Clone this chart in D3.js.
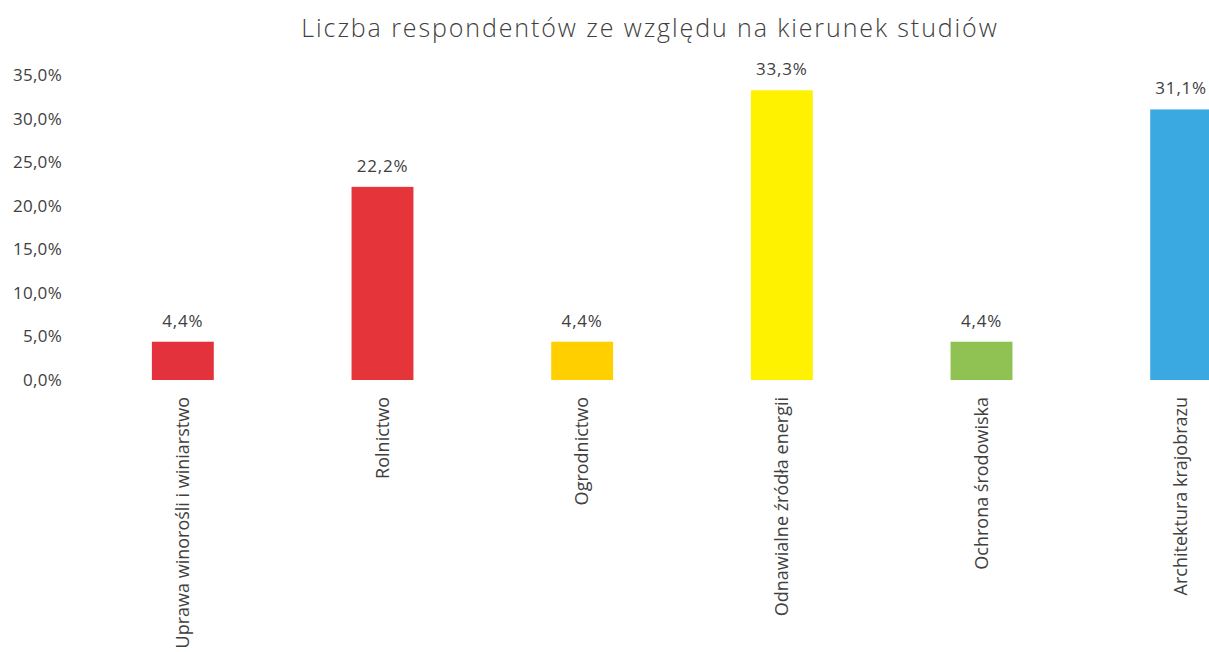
<!DOCTYPE html>
<html>
<head>
<meta charset="utf-8">
<script src="https://cdn.jsdelivr.net/npm/d3@7"></script>
<style>
  body { margin: 0; background: #fff; }
  text { font-family: "Open Sans", "Noto Sans", sans-serif; fill: #404040; }
</style>
</head>
<body>
<div id="chart"></div>
<script>
var svgWidth = 1209;
var svgHeight = 652;

// data
var categories = ["Uprawa winorośli i winiarstwo", "Rolnictwo", "Ogrodnictwo",
  "Odnawialne źródła energii", "Ochrona środowiska", "Architektura krajobrazu"];
var values = [4.4, 22.2, 4.4, 33.3, 4.4, 31.1];
var barColors = ["#e3323b", "#e5343a", "#ffcf00", "#fff200", "#8fc253", "#3aa9e1"];
var yTicks = [0, 5, 10, 15, 20, 25, 30, 35];

var margin = { top: 75.5, left: 83, bottom: 272 };
var plotRight = 1281; // chart runs past the picture's right edge
var height = svgHeight - margin.top - margin.bottom;

var svg = d3.select("#chart")
  .append("svg")
  .attr("width", svgWidth)
  .attr("height", svgHeight);

var data = categories.map(function(c, i) {
  return { name: c, value: values[i], color: barColors[i] };
});

var xScale = d3.scaleBand()
  .domain(categories)
  .range([margin.left, plotRight])
  .paddingInner(0.69)
  .paddingOuter(0.345);

var yScale = d3.scaleLinear()
  .domain([0, 35])
  .range([margin.top + height, margin.top]);

var fmt = function(v) { return d3.format(".1f")(v).replace(".", ",") + "%"; };

// y axis (labels only)
var yAxis = d3.axisLeft(yScale)
  .tickValues(yTicks)
  .tickFormat(fmt)
  .tickSize(0)
  .tickPadding(0);

svg.append("g")
  .attr("transform", "translate(62,0)")
  .call(yAxis)
  .call(function(g) { g.select(".domain").remove(); })
  .selectAll("text")
  .style("font-size", "17px")
  .style("letter-spacing", "0.3px")
  .style("font-family", "\"Open Sans\", sans-serif")
  .attr("fill", "#595959");

// bars
svg.selectAll("rect.bar")
  .data(data)
  .enter()
  .append("rect")
  .attr("class", "bar")
  .attr("x", d => xScale(d.name))
  .attr("y", d => yScale(d.value))
  .attr("width", xScale.bandwidth())
  .attr("height", d => yScale(0) - yScale(d.value))
  .attr("fill", d => d.color);

// value labels
svg.selectAll("text.val")
  .data(data)
  .enter()
  .append("text")
  .attr("class", "val")
  .attr("x", d => xScale(d.name) + xScale.bandwidth() / 2)
  .attr("y", d => yScale(d.value) - 15)
  .attr("text-anchor", "middle")
  .style("font-size", "17px")
  .style("letter-spacing", "0.8px")
  .text(d => fmt(d.value));

// x axis labels, rotated
var xAxis = d3.axisBottom(xScale).tickSize(0).tickPadding(0);
svg.append("g")
  .attr("transform", `translate(0, ${yScale(0)})`)
  .call(xAxis)
  .call(function(g) { g.select(".domain").remove(); })
  .selectAll("text")
  .style("font-size", "18px")
  .style("font-family", "\"Open Sans\", sans-serif")
  .attr("fill", "#404040")
  .attr("text-anchor", "end")
  .attr("dy", "0.35em")
  .attr("transform", "translate(0,17) rotate(-90)")
  .attr("y", 0);

// title
svg.append("text")
  .attr("x", 650)
  .attr("y", 37)
  .attr("text-anchor", "middle")
  .style("font-size", "25px")
  .style("font-weight", "300")
  .style("letter-spacing", "1.9px")
  .attr("fill", "#1f1f1f")
  .text("Liczba respondentów ze względu na kierunek studiów");
</script>
</body>
</html>
